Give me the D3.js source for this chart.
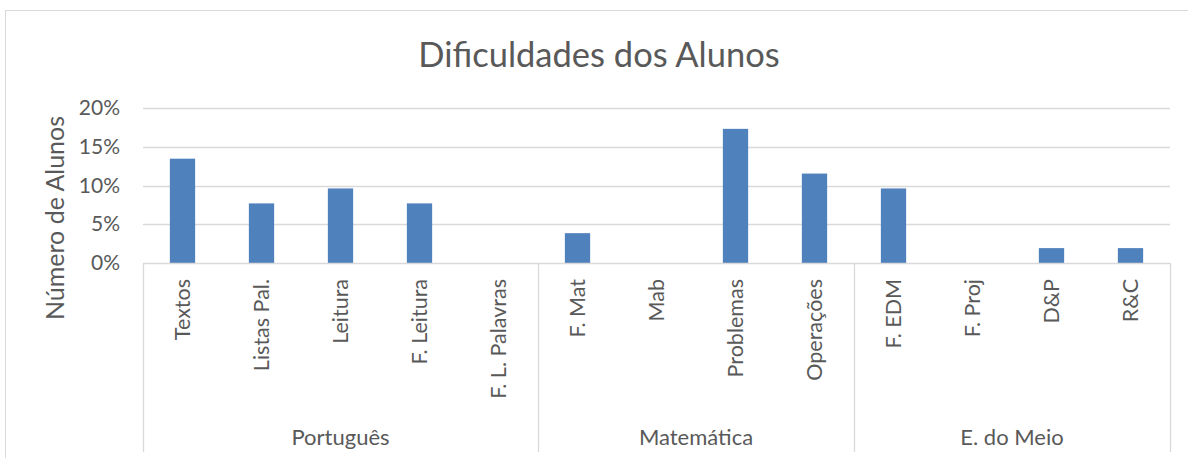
<!DOCTYPE html>
<html>
<head>
<meta charset="utf-8">
<script src="https://cdn.jsdelivr.net/npm/d3@7"></script>
<style>
  html, body { margin: 0; padding: 0; background: #fff; }
  svg { display: block; }
  text { font-family: Lato, "Open Sans", sans-serif; fill: #595959; }
</style>
</head>
<body>
<svg id="chart" width="1188" height="458"></svg>
<script>
// Subject groups and the difficulty categories within each
const groups = ["Português", "Matemática", "E. do Meio"];
const groupSizes = [5, 4, 4];
const categories = ["Textos", "Listas Pal.", "Leitura", "F. Leitura", "F. L. Palavras",
                    "F. Mat", "Mab", "Problemas", "Operações",
                    "F. EDM", "F. Proj", "D&P", "R&C"];
// Share of students (fraction) per category
const values = [0.1346, 0.0769, 0.0962, 0.0769, 0,
                0.0385, 0, 0.1731, 0.1154,
                0.0962, 0, 0.0192, 0.0192];
const yTicks = [0, 0.05, 0.10, 0.15, 0.20];

const svg = d3.select("#chart");
const plot = { left: 143, right: 1170, top: 108, bottom: 263 };

// Outer chart frame
svg.append("rect").attr("x", 5.5).attr("y", 10.5).attr("width", 1200).attr("height", 460)
  .attr("fill", "none").attr("stroke", "#d9d9d9").attr("stroke-width", 1);

const x = d3.scaleBand().domain(categories).range([plot.left, plot.right]).paddingInner(0.68).paddingOuter(0.34);
const y = d3.scaleLinear().domain([0, 0.20]).range([plot.bottom, plot.top]);

// Gridlines
svg.append("g").selectAll("line").data(yTicks.filter(t => t > 0)).join("line")
  .attr("x1", plot.left).attr("x2", plot.right)
  .attr("y1", d => Math.round(y(d)) + 0.5).attr("y2", d => Math.round(y(d)) + 0.5)
  .attr("stroke", "#d9d9d9").attr("stroke-width", 1.3);

// Y axis labels
const yAxis = d3.axisLeft(y).tickValues(yTicks).tickFormat(d3.format(".0%")).tickSize(0).tickPadding(23);
const gy = svg.append("g").attr("transform", `translate(${plot.left},0)`).call(yAxis);
gy.select(".domain").remove();
gy.selectAll("text").attr("font-size", 21).style("font-family", "Lato, sans-serif").attr("fill", "#595959");

// Bars
svg.append("g").selectAll("rect").data(values).join("rect")
  .attr("x", (d, i) => x(categories[i]))
  .attr("width", x.bandwidth())
  .attr("y", d => y(d))
  .attr("height", d => y(0) - y(d))
  .attr("fill", "#4f81bd");

// Category axis baseline
svg.append("line").attr("x1", plot.left).attr("x2", plot.right)
  .attr("y1", plot.bottom + 0.5).attr("y2", plot.bottom + 0.5)
  .attr("stroke", "#d9d9d9").attr("stroke-width", 1.3);

// Group separators
const step = (plot.right - plot.left) / categories.length;
let acc = 0;
const bounds = [0];
groupSizes.forEach(n => { acc += n; bounds.push(acc); });
svg.append("g").selectAll("line").data(bounds).join("line")
  .attr("x1", d => plot.left + d * step + 0.5).attr("x2", d => plot.left + d * step + 0.5)
  .attr("y1", plot.bottom).attr("y2", 452)
  .attr("stroke", "#d9d9d9").attr("stroke-width", 1.3);

// Category labels (rotated)
svg.append("g").selectAll("text").data(categories).join("text")
  .attr("transform", d => `translate(${x(d) + x.bandwidth() / 2 + 7.5},279) rotate(-90)`)
  .attr("text-anchor", "end")
  .attr("font-size", 21.5)
  .text(d => d);

// Group labels
svg.append("g").selectAll("text").data(groups).join("text")
  .attr("x", (d, i) => plot.left + (bounds[i] + bounds[i + 1]) / 2 * step)
  .attr("y", 445)
  .attr("text-anchor", "middle")
  .attr("font-size", 22)
  .text(d => d);

// Title
svg.append("text").attr("x", 599).attr("y", 67).attr("text-anchor", "middle")
  .attr("font-size", 34.5).text("Dificuldades dos Alunos");

// Y axis title
svg.append("text").attr("transform", "translate(64,218) rotate(-90)")
  .attr("text-anchor", "middle").attr("font-size", 25).text("Número de Alunos");
</script>
</body>
</html>
